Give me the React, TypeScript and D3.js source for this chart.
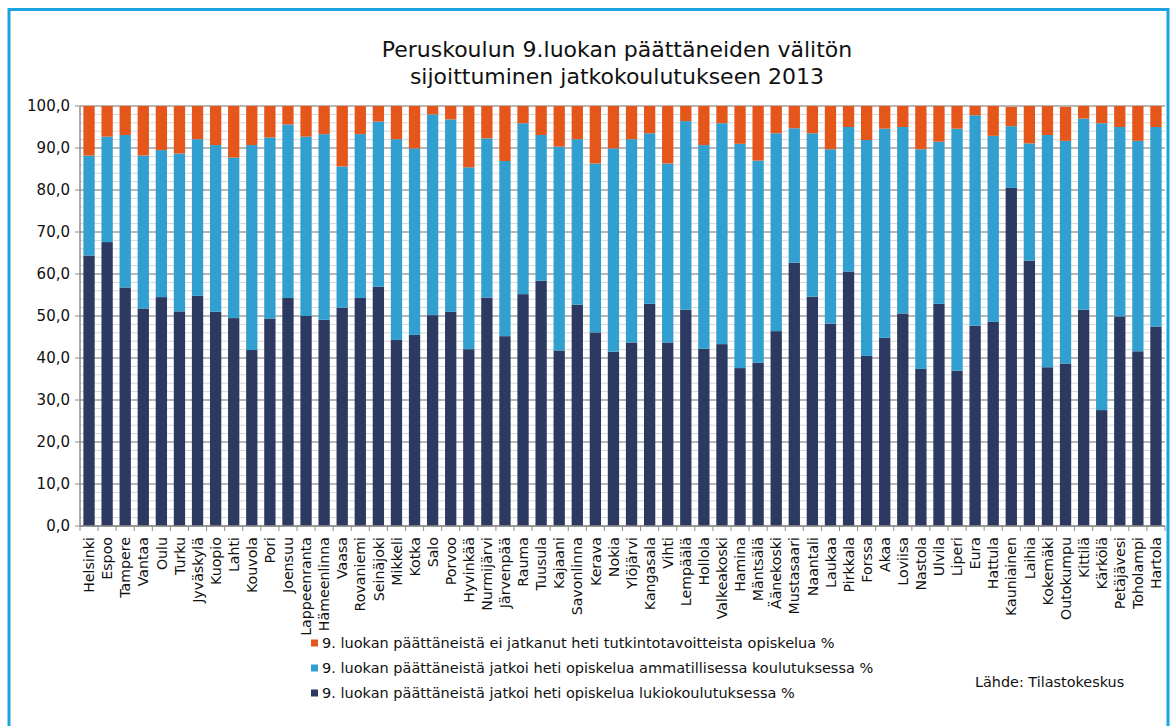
import React from 'react';
import * as d3 from 'd3';

// kunnat
const kunnat = [
  'Helsinki', 'Espoo', 'Tampere', 'Vantaa', 'Oulu', 'Turku', 'Jyväskylä', 'Kuopio', 'Lahti', 'Kouvola',
  'Pori', 'Joensuu', 'Lappeenranta', 'Hämeenlinna', 'Vaasa', 'Rovaniemi', 'Seinäjoki', 'Mikkeli', 'Kotka', 'Salo',
  'Porvoo', 'Hyvinkää', 'Nurmijärvi', 'Järvenpää', 'Rauma', 'Tuusula', 'Kajaani', 'Savonlinna', 'Kerava', 'Nokia',
  'Ylöjärvi', 'Kangasala', 'Vihti', 'Lempäälä', 'Hollola', 'Valkeakoski', 'Hamina', 'Mäntsälä', 'Äänekoski', 'Mustasaari',
  'Naantali', 'Laukaa', 'Pirkkala', 'Forssa', 'Akaa', 'Loviisa', 'Nastola', 'Ulvila', 'Liperi', 'Eura',
  'Hattula', 'Kauniainen', 'Laihia', 'Kokemäki', 'Outokumpu', 'Kittilä', 'Kärkölä', 'Petäjävesi', 'Toholampi', 'Hartola',
];

// % jatkoi lukiossa
const lukio = [
  64.4, 67.6, 56.8, 51.8, 54.5, 51.1, 54.8, 51.0, 49.5, 41.9,
  49.4, 54.3, 50.0, 49.1, 52.0, 54.3, 57.0, 44.3, 45.5, 50.2,
  51.0, 42.1, 54.4, 45.2, 55.2, 58.4, 41.8, 52.7, 46.1, 41.5,
  43.7, 52.9, 43.7, 51.5, 42.2, 43.3, 37.6, 38.9, 46.4, 62.7,
  54.6, 48.2, 60.6, 40.5, 44.8, 50.6, 37.4, 52.9, 37.0, 47.7,
  48.6, 80.5, 63.2, 37.8, 38.7, 51.5, 27.6, 49.9, 41.6, 47.5,
];

// % jatkoi ammatillisessa
const ammatillinen = [
  23.8, 25.1, 36.3, 36.4, 35.0, 37.6, 37.3, 39.7, 38.2, 48.8,
  43.1, 41.3, 42.7, 44.2, 33.6, 39.0, 39.3, 47.8, 44.4, 47.8,
  45.8, 43.3, 37.9, 41.7, 40.7, 34.7, 48.5, 39.4, 40.2, 48.4,
  48.4, 40.6, 42.6, 44.9, 48.5, 52.6, 53.4, 48.1, 47.1, 32.0,
  38.9, 41.5, 34.4, 51.4, 49.8, 44.4, 52.3, 38.6, 57.6, 50.1,
  44.3, 14.7, 27.9, 55.3, 53.0, 45.5, 68.3, 45.1, 50.1, 47.5,
];

// % ei jatkanut
const eiJatkanut = [
  11.8, 7.3, 6.9, 11.8, 10.5, 11.3, 7.9, 9.3, 12.3, 9.3,
  7.5, 4.4, 7.3, 6.7, 14.4, 6.7, 3.7, 7.9, 10.1, 2.0,
  3.2, 14.6, 7.7, 13.1, 4.1, 6.9, 9.7, 7.9, 13.7, 10.1,
  7.9, 6.5, 13.7, 3.6, 9.3, 4.1, 9.0, 13.0, 6.5, 5.3,
  6.5, 10.3, 5.0, 8.1, 5.4, 5.0, 10.3, 8.5, 5.4, 2.2,
  7.1, 4.6, 8.9, 6.9, 8.1, 3.0, 4.1, 5.0, 8.3, 5.0,
];

const sarjat = [
  { key: 'lukio', nimi: '9. luokan päättäneistä jatkoi heti opiskelua lukiokoulutuksessa %', vari: '#2c3a62' },
  { key: 'ammatillinen', nimi: '9. luokan päättäneistä jatkoi heti opiskelua ammatillisessa koulutuksessa %', vari: '#319fcf' },
  { key: 'ei', nimi: '9. luokan päättäneistä ei jatkanut heti tutkintotavoitteista opiskelua %', vari: '#e5561a' },
];

const W = 1175;
const H = 726;
const plot = { left: 80, right: 1165, top: 106, bottom: 526 };
const font = 'DejaVu Sans, Verdana, sans-serif';

export default function App() {
  const rows = kunnat.map((k, i) => ({
    kunta: k,
    lukio: lukio[i],
    ammatillinen: ammatillinen[i],
    ei: eiJatkanut[i],
  }));

  const x = d3.scaleBand()
    .domain(kunnat)
    .range([plot.left, plot.right])
    .paddingInner(0.375)
    .paddingOuter(0.1875);
  const y = d3.scaleLinear().domain([0, 100]).range([plot.bottom, plot.top]);

  const stack = d3.stack().keys(sarjat.map(s => s.key));
  const layers = stack(rows as any);

  const fmt = (v: number) => d3.format('.1f')(v).replace('.', ',');
  const major = d3.range(0, 101, 10);
  const minor = d3.range(0, 101, 2).filter(v => v % 10 !== 0);
  const step = x.step();
  const rajat = d3.range(0, kunnat.length + 1).map(i => plot.left + i * step);

  // legend: orange first, navy last
  const legend = [...sarjat].reverse();

  return (
    <svg width={W} height={H} style={{ position: 'absolute', left: 0, top: 0 }} fontFamily={font}>
      <rect x={0} y={0} width={W} height={H} fill="#fff" />
      <rect x={9} y={9.5} width={1159} height={740} fill="none" stroke="#1aa3e0" strokeWidth={3} />

      <text x={617} y={57} textAnchor="middle" fontSize={22} fill="#111">
        Peruskoulun 9.luokan päättäneiden välitön
      </text>
      <text x={617} y={84} textAnchor="middle" fontSize={22} fill="#111">
        sijoittuminen jatkokoulutukseen 2013
      </text>

      {minor.map(v => (
        <line key={'m' + v} x1={plot.left} x2={plot.right} y1={y(v)} y2={y(v)} stroke="#d6d6d6" strokeWidth={1} />
      ))}
      {major.map(v => (
        <line key={'g' + v} x1={plot.left} x2={plot.right} y1={y(v)} y2={y(v)} stroke="#9f9f9f" strokeWidth={1.5} />
      ))}

      {layers.map((layer, li) => (
        <g key={sarjat[li].key} fill={sarjat[li].vari}>
          {layer.map((d: any, i: number) => (
            <rect
              key={i}
              x={x(kunnat[i])}
              y={y(d[1])}
              width={x.bandwidth()}
              height={y(d[0]) - y(d[1])}
            />
          ))}
        </g>
      ))}

      <line x1={plot.left} x2={plot.left} y1={plot.top} y2={plot.bottom} stroke="#8c8c8c" strokeWidth={1.5} />
      <line x1={plot.left} x2={plot.right} y1={plot.bottom} y2={plot.bottom} stroke="#8c8c8c" strokeWidth={1.5} />
      {major.map(v => (
        <g key={'t' + v}>
          <line x1={plot.left - 5} x2={plot.left} y1={y(v)} y2={y(v)} stroke="#8c8c8c" />
          <text x={plot.left - 10} y={y(v)} dy="0.36em" textAnchor="end" fontSize={15} fill="#111">
            {fmt(v)}
          </text>
        </g>
      ))}
      {rajat.map((bx, i) => (
        <line key={'b' + i} x1={bx} x2={bx} y1={plot.bottom} y2={plot.bottom + 5} stroke="#8c8c8c" />
      ))}
      {kunnat.map(k => (
        <text
          key={k}
          transform={`translate(${(x(k) as number) + x.bandwidth() / 2},${plot.bottom + 11}) rotate(-90)`}
          dy="0.36em"
          textAnchor="end"
          fontSize={14.2}
          fill="#111"
        >
          {k}
        </text>
      ))}

      {legend.map((s, i) => (
        <g key={s.key} transform={`translate(311,${643 + i * 25})`}>
          <rect x={0} y={-3.5} width={7} height={7} fill={s.vari} />
          <text x={11} y={0} dy="0.36em" fontSize={14.5} fill="#111">{s.nimi}</text>
        </g>
      ))}

      <text x={975} y={682} dy="0.36em" fontSize={14.4} fill="#111">Lähde: Tilastokeskus</text>
    </svg>
  );
}
